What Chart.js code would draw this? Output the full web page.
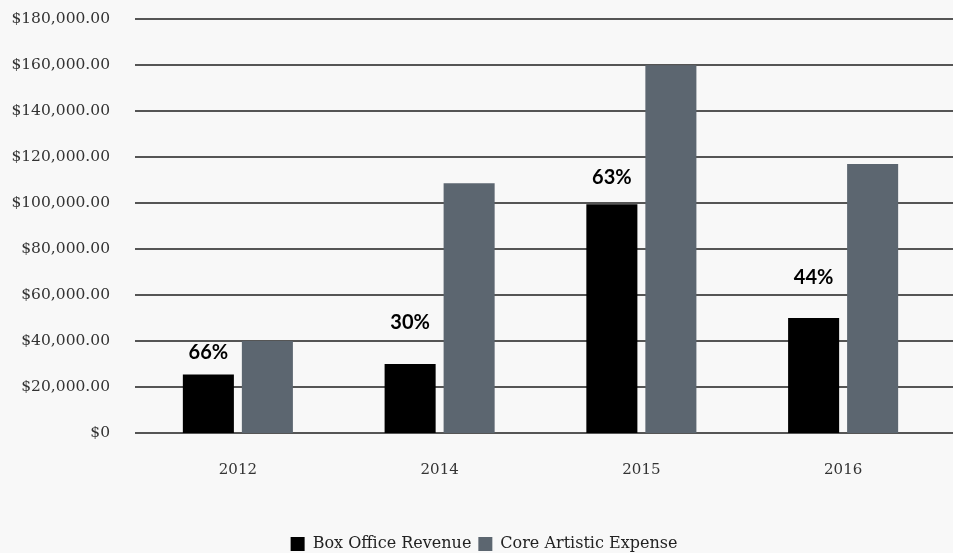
<!DOCTYPE html>
<html>
<head>
<meta charset="utf-8">
<script src="https://cdn.jsdelivr.net/npm/chart.js@4/dist/chart.umd.min.js"></script>
<style>
  html, body { margin: 0; padding: 0; background: #f8f8f8; }
  #wrap { width: 953px; height: 553px; }
</style>
</head>
<body>
<div id="wrap"><canvas id="revenueChart"></canvas></div>
<script>
var years = ['2012', '2014', '2015', '2016'];
var boxOffice = [25500, 30000, 99500, 50000];
var coreArtistic = [40000, 108700, 160000, 117000];
var shareLabels = ['66%', '30%', '63%', '44%'];

var BASE_FONT = 'DejaVu Serif';

// horizontal rules run the full width, past the bars
var gridLines = {
    id: 'gridLines',
    beforeDatasetsDraw: function (chart) {
        var ctx = chart.ctx, y = chart.scales.y;
        ctx.save();
        ctx.strokeStyle = '#555';
        ctx.lineWidth = 2;
        y.ticks.forEach(function (t) {
            var py = Math.round(y.getPixelForValue(t.value));
            ctx.beginPath();
            ctx.moveTo(chart.chartArea.left - 2, py);
            ctx.lineTo(chart.width, py);
            ctx.stroke();
        });
        ctx.restore();
    }
};

// percentage of expense covered, written above each revenue bar
var shareText = {
    id: 'shareText',
    afterDatasetsDraw: function (chart, args, opts) {
        var ctx = chart.ctx;
        var meta = chart.getDatasetMeta(0);
        ctx.save();
        ctx.font = 'bold 20px Lato';
        ctx.fillStyle = '#000';
        ctx.textAlign = 'center';
        ctx.textBaseline = 'middle';
        meta.data.forEach(function (bar, i) {
            ctx.fillText(shareLabels[i], bar.x, bar.y - opts.lift[i]);
        });
        ctx.restore();
    }
};

// pull the legend a little lower and to the right
var legendNudge = {
    id: 'legendNudge',
    beforeInit: function (chart) {
        var fit = chart.legend.fit;
        chart.legend.fit = function () {
            fit.call(this);
            this.height -= 9;
        };
    },
    afterLayout: function (chart) {
        chart.legend.left += 12;
        chart.legend.right += 12;
    }
};

new Chart(document.getElementById('revenueChart'), {
    type: 'bar',
    data: {
        labels: years,
        datasets: [{
            label: 'Box Office Revenue',
            data: boxOffice,
            backgroundColor: '#000000',
            categoryPercentage: 0.585,
            barPercentage: 0.865
        }, {
            label: 'Core Artistic Expense',
            data: coreArtistic,
            backgroundColor: '#5c6670',
            categoryPercentage: 0.585,
            barPercentage: 0.865
        }]
    },
    options: {
        responsive: true,
        maintainAspectRatio: false,
        animation: false,
        layout: { padding: { top: 0, right: 9, left: 0, bottom: 0 } },
        plugins: {
            legend: {
                position: 'bottom',
                labels: {
                    boxWidth: 14,
                    boxHeight: 14,
                    padding: 7,
                    color: '#222',
                    font: { family: BASE_FONT, size: 16 }
                }
            },
            tooltip: { enabled: false },
            shareText: { lift: [22, 42, 27, 41] }
        },
        scales: {
            x: {
                grid: { display: false },
                border: { display: false },
                ticks: { color: '#333', padding: 20, font: { family: BASE_FONT, size: 15 } },
                afterFit: function (s) { s.height += 30; }
            },
            y: {
                min: 0,
                max: 180000,
                grid: { display: false, drawTicks: true, tickLength: 17 },
                border: { display: false },
                ticks: {
                    stepSize: 20000,
                    padding: 10,
                    color: '#333',
                    font: { family: BASE_FONT, size: 15.5 },
                    callback: function (v) {
                        if (v === 0) return '$0';
                        return '$' + v.toLocaleString('en-US', { minimumFractionDigits: 2, maximumFractionDigits: 2 });
                    }
                },
                afterFit: function (s) { s.width = 137; }
            }
        }
    },
    plugins: [gridLines, shareText, legendNudge]
});
</script>
</body>
</html>
